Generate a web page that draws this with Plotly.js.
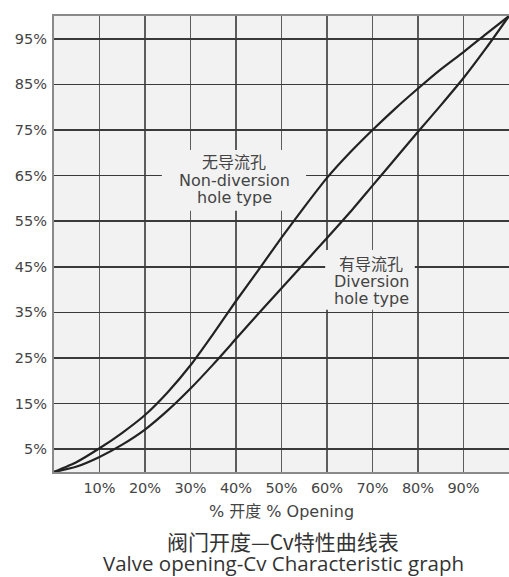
<!DOCTYPE html>
<html>
<head>
<meta charset="utf-8">
<script src="https://cdn.plot.ly/plotly-3.0.1.min.js"></script>
<style>html,body{margin:0;padding:0;background:#fff;}#chart{width:509px;height:577px;}</style>
</head>
<body>
<div id="chart"></div>
<script>
// Valve opening (%)
const opening = [0,5,10,15,20,25,30,35,40,45,50,55,60,65,70,75,80,85,90,95,100];
// Non-diversion hole type (无导流孔), Cv %
const nonDiversion = [0,2.2,5.2,8.6,12.5,17.5,23.4,30.3,37.5,44.4,51.4,58.1,64.5,70.0,75,79.7,84.1,88.3,92.1,96.1,100];
// Diversion hole type (有导流孔), Cv %
const diversion = [0,1.2,3.3,6.0,9.3,13.5,18.3,23.6,29.2,34.8,40.3,45.8,51.3,56.9,62.8,68.7,74.6,80.4,86.4,93.0,100];

const xTickVals = [10,20,30,40,50,60,70,80,90];
const xTickText = ['10%','20%','30%','40%','50%','60%','70%','80%','90%'];
const yTickVals = [5,15,25,35,45,55,65,75,85,95];
const yTickText = ['5%','15%','25%','35%','45%','55%','65%','75%','85%','95%'];

const labelNonDivLines = ['无导流孔','Non-diversion','hole type'];
const labelDivLines = ['有导流孔','Diversion','hole type'];
const xTitle = '% 开度 % Opening';
const titleZh = '阀门开度—Cv特性曲线表';
const titleEn = 'Valve opening-Cv Characteristic graph';

// label placement (data coords)
const nonDivPos = {x:39.6, y:[67.8,64.0,60.1], box:[23.7,55.4,57.3,70.6]};
const divPos = {x:69.7, y:[45.5,41.7,38.1], box:[59.6,79.3,35.6,48.7]};

const lineStyle = {color:'#222', width:2.2, shape:'spline', smoothing:0.6};
const traces = [
  {x: opening, y: nonDiversion, type:'scatter', mode:'lines', line: lineStyle, name:'Non-diversion', hoverinfo:'skip'},
  {x: opening, y: diversion, type:'scatter', mode:'lines', line: lineStyle, name:'Diversion', hoverinfo:'skip'}
];

const labelFont = {family:'DejaVu Sans, Noto Sans CJK SC, sans-serif', size:16, color:'#444'};
function labelAnns(lines, pos){
  return lines.map((t,i)=>({x:pos.x, y:pos.y[i], xref:'x', yref:'y', text:t, showarrow:false,
    xanchor:'center', yanchor:'middle', font:labelFont}));
}
function maskShape(b){
  return {type:'rect', xref:'x', yref:'y', x0:b[0], x1:b[1], y0:b[2], y1:b[3],
    fillcolor:'#f2f2f2', line:{width:0}, layer:'between'};
}

const tickFont = {family:'DejaVu Sans, Verdana, sans-serif', size:14.5, color:'#444'};
const layout = {
  width:509, height:577,
  margin:{l:54, r:0, t:16, b:105},
  paper_bgcolor:'#ffffff',
  plot_bgcolor:'#f2f2f2',
  showlegend:false,
  xaxis:{
    range:[0,100], tickvals:xTickVals, ticktext:xTickText,
    showgrid:true, gridcolor:'#5c5c5c', gridwidth:1.5,
    zeroline:false, showline:true, mirror:true, linecolor:'#8a8a8a', linewidth:2,
    ticks:'', ticklabelstandoff:2, tickfont:tickFont, fixedrange:true,
    title:{text:xTitle, standoff:10, font:{family:'DejaVu Sans, Noto Sans CJK SC, sans-serif', size:16, color:'#444'}}
  },
  yaxis:{
    range:[0,100], tickvals:yTickVals, ticktext:yTickText,
    showgrid:true, gridcolor:'#3a3a3a', gridwidth:1.5,
    zeroline:false, showline:true, mirror:true, linecolor:'#8a8a8a', linewidth:2,
    ticks:'', ticklabelstandoff:2, tickfont:tickFont, fixedrange:true
  },
  shapes:[maskShape(nonDivPos.box), maskShape(divPos.box)],
  annotations:[
    ...labelAnns(labelNonDivLines, nonDivPos),
    ...labelAnns(labelDivLines, divPos),
    {x:0.504, y:-0.1513, xref:'paper', yref:'paper', text:titleZh, showarrow:false, xanchor:'center', yanchor:'middle',
     font:{family:'Noto Sans CJK SC, sans-serif', size:21, color:'#333'}},
    {x:0.504, y:-0.1996, xref:'paper', yref:'paper', text:titleEn, showarrow:false, xanchor:'center', yanchor:'middle',
     font:{family:'Open Sans, sans-serif', size:20.5, color:'#333'}}
  ]
};

Plotly.newPlot('chart', traces, layout, {displayModeBar:false, staticPlot:true});
</script>
</body>
</html>
